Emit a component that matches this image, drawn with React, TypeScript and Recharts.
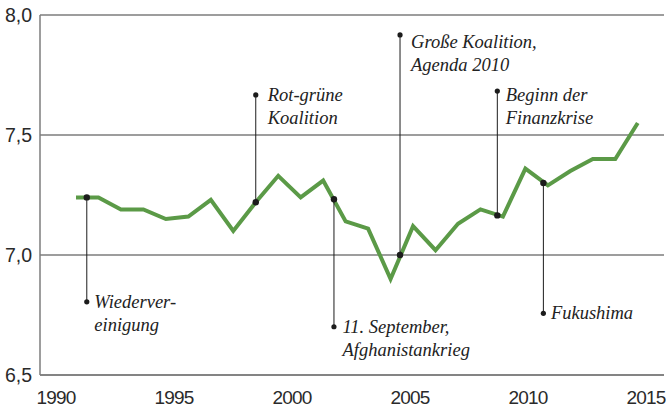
import React from 'react';
import { LineChart, Line, XAxis, YAxis, CartesianGrid, ReferenceLine, ReferenceDot } from 'recharts';

// Lebenszufriedenheit in Deutschland, 1990-2015
const years = [1990, 1991, 1992, 1993, 1994, 1995, 1996, 1997, 1998, 1999, 2000, 2001, 2002,
  2003, 2004, 2005, 2006, 2007, 2008, 2009, 2010, 2011, 2012, 2013, 2014, 2015];
const satisfaction = [7.24, 7.24, 7.19, 7.19, 7.15, 7.16, 7.23, 7.10, 7.22, 7.33, 7.24, 7.31, 7.14,
  7.11, 6.90, 7.12, 7.02, 7.13, 7.19, 7.16, 7.36, 7.29, 7.35, 7.40, 7.40, 7.55];

const xTicks = [1990, 1995, 2000, 2005, 2010, 2015];
const yTicks = [6.5, 7.0, 7.5, 8.0];

// Ereignisse: Text, Zeitpunkt, Wert auf der Kurve, Wert am Beschriftungspunkt
const eventLabels = [
  ['Wiederver-', 'einigung'],
  ['Rot-grüne', 'Koalition'],
  ['11. September,', 'Afghanistankrieg'],
  ['Große Koalition,', 'Agenda 2010'],
  ['Beginn der', 'Finanzkrise'],
  ['Fukushima'],
];
const eventYears = [1990.48, 1998.0, 2001.48, 2004.42, 2008.75, 2010.8];
const eventCurveValues = [7.24, 7.22, 7.232, 7.0, 7.165, 7.30];
const eventLabelValues = [6.805, 7.667, 6.701, 7.917, 7.683, 6.757];

// Textversatz je Ereignis (px)
const labelOffsets = [
  { dx: 7.5, dy: 6.5 },
  { dx: 12, dy: 6 },
  { dx: 8.5, dy: 6.5 },
  { dx: 11, dy: 13 },
  { dx: 8.5, dy: 10 },
  { dx: 7.5, dy: 6 },
];

const data = years.map((year, i) => ({ year, value: satisfaction[i] }));

const GRID = '#7d7d7d';
const INK = '#1c1c1c';
const GREEN = '#5b9a47';
const tickFont = {
  fontFamily: '"Liberation Sans Narrow", "Arial Narrow", "Liberation Sans", sans-serif',
  fontSize: 19.5,
  fill: '#2a2a2a',
};
const serifItalic = {
  fontFamily: '"Liberation Serif", "Times New Roman", "DejaVu Serif", serif',
  fontStyle: 'italic',
  fontSize: 18.5,
};

export default function App() {
  return (
    <div style={{ position: 'absolute', left: 0, top: 0, width: 666, height: 410, background: '#fff' }}>
      <LineChart width={666} height={410} data={data} margin={{ top: 15, right: 2, bottom: 5, left: 0 }}>
        <CartesianGrid vertical={false} stroke={GRID} strokeWidth={1.5} yAxisId="left" xAxisId="ticks" />
        <XAxis xAxisId="data" dataKey="year" type="number" domain={[1988.398, 2016.168]} allowDataOverflow height={0} hide />
        <XAxis
          xAxisId="ticks"
          dataKey="year"
          type="number"
          domain={[1989.32, 2015.76]}
          ticks={xTicks}
          allowDataOverflow
          height={30}
          tickLine={false}
          tickMargin={10}
          axisLine={{ stroke: GRID, strokeWidth: 1.5 }}
          tick={{ ...tickFont, fontSize: 19, letterSpacing: -0.8 }}
          interval={0}
        />
        <YAxis
          yAxisId="left"
          domain={[6.5, 8]}
          ticks={yTicks}
          width={40}
          tickLine={false}
          axisLine={{ stroke: GRID, strokeWidth: 1.5 }}
          tick={tickFont}
          tickFormatter={(v: number) => v.toFixed(1).replace('.', ',')}
          interval={0}
        />
        <YAxis yAxisId="right" orientation="right" domain={[6.5, 8]} width={0} tick={false} tickLine={false} axisLine={{ stroke: GRID, strokeWidth: 1.5 }} />
        {/* unsichtbare Serie, damit die Jahresachse einen Bezug hat */}
        <Line
          xAxisId="ticks"
          yAxisId="left"
          dataKey="value"
          stroke="none"
          dot={false}
          activeDot={false}
          isAnimationActive={false}
        />
        <Line
          xAxisId="data"
          yAxisId="left"
          dataKey="value"
          stroke={GREEN}
          strokeWidth={4}
          strokeLinejoin="miter"
          dot={false}
          isAnimationActive={false}
        />
        {eventYears.map((ex, i) => (
          <ReferenceLine
            key={`l${i}`}
            xAxisId="data"
            yAxisId="left"
            segment={[{ x: ex, y: eventCurveValues[i] }, { x: ex, y: eventLabelValues[i] }]}
            stroke={INK}
            strokeWidth={1}
          />
        ))}
        {eventYears.map((ex, i) => (
          <ReferenceDot
            key={`c${i}`}
            xAxisId="data"
            yAxisId="left"
            x={ex}
            y={eventCurveValues[i]}
            r={3.2}
            fill={INK}
            stroke="none"
          />
        ))}
        {eventYears.map((ex, i) => (
          <ReferenceDot
            key={`t${i}`}
            xAxisId="data"
            yAxisId="left"
            x={ex}
            y={eventLabelValues[i]}
            r={2.6}
            shape={(p: any) => {
              const { dx, dy } = labelOffsets[i];
              return (
                <g>
                  <circle cx={p.cx} cy={p.cy} r={2.6} fill={INK} />
                  <text x={p.cx + dx} y={p.cy + dy} style={serifItalic} fill="#222">
                    {eventLabels[i].map((line, j) => (
                      <tspan key={j} x={p.cx + dx} dy={j === 0 ? 0 : 23}>{line}</tspan>
                    ))}
                  </text>
                </g>
              );
            }}
          />
        ))}
      </LineChart>
    </div>
  );
}
